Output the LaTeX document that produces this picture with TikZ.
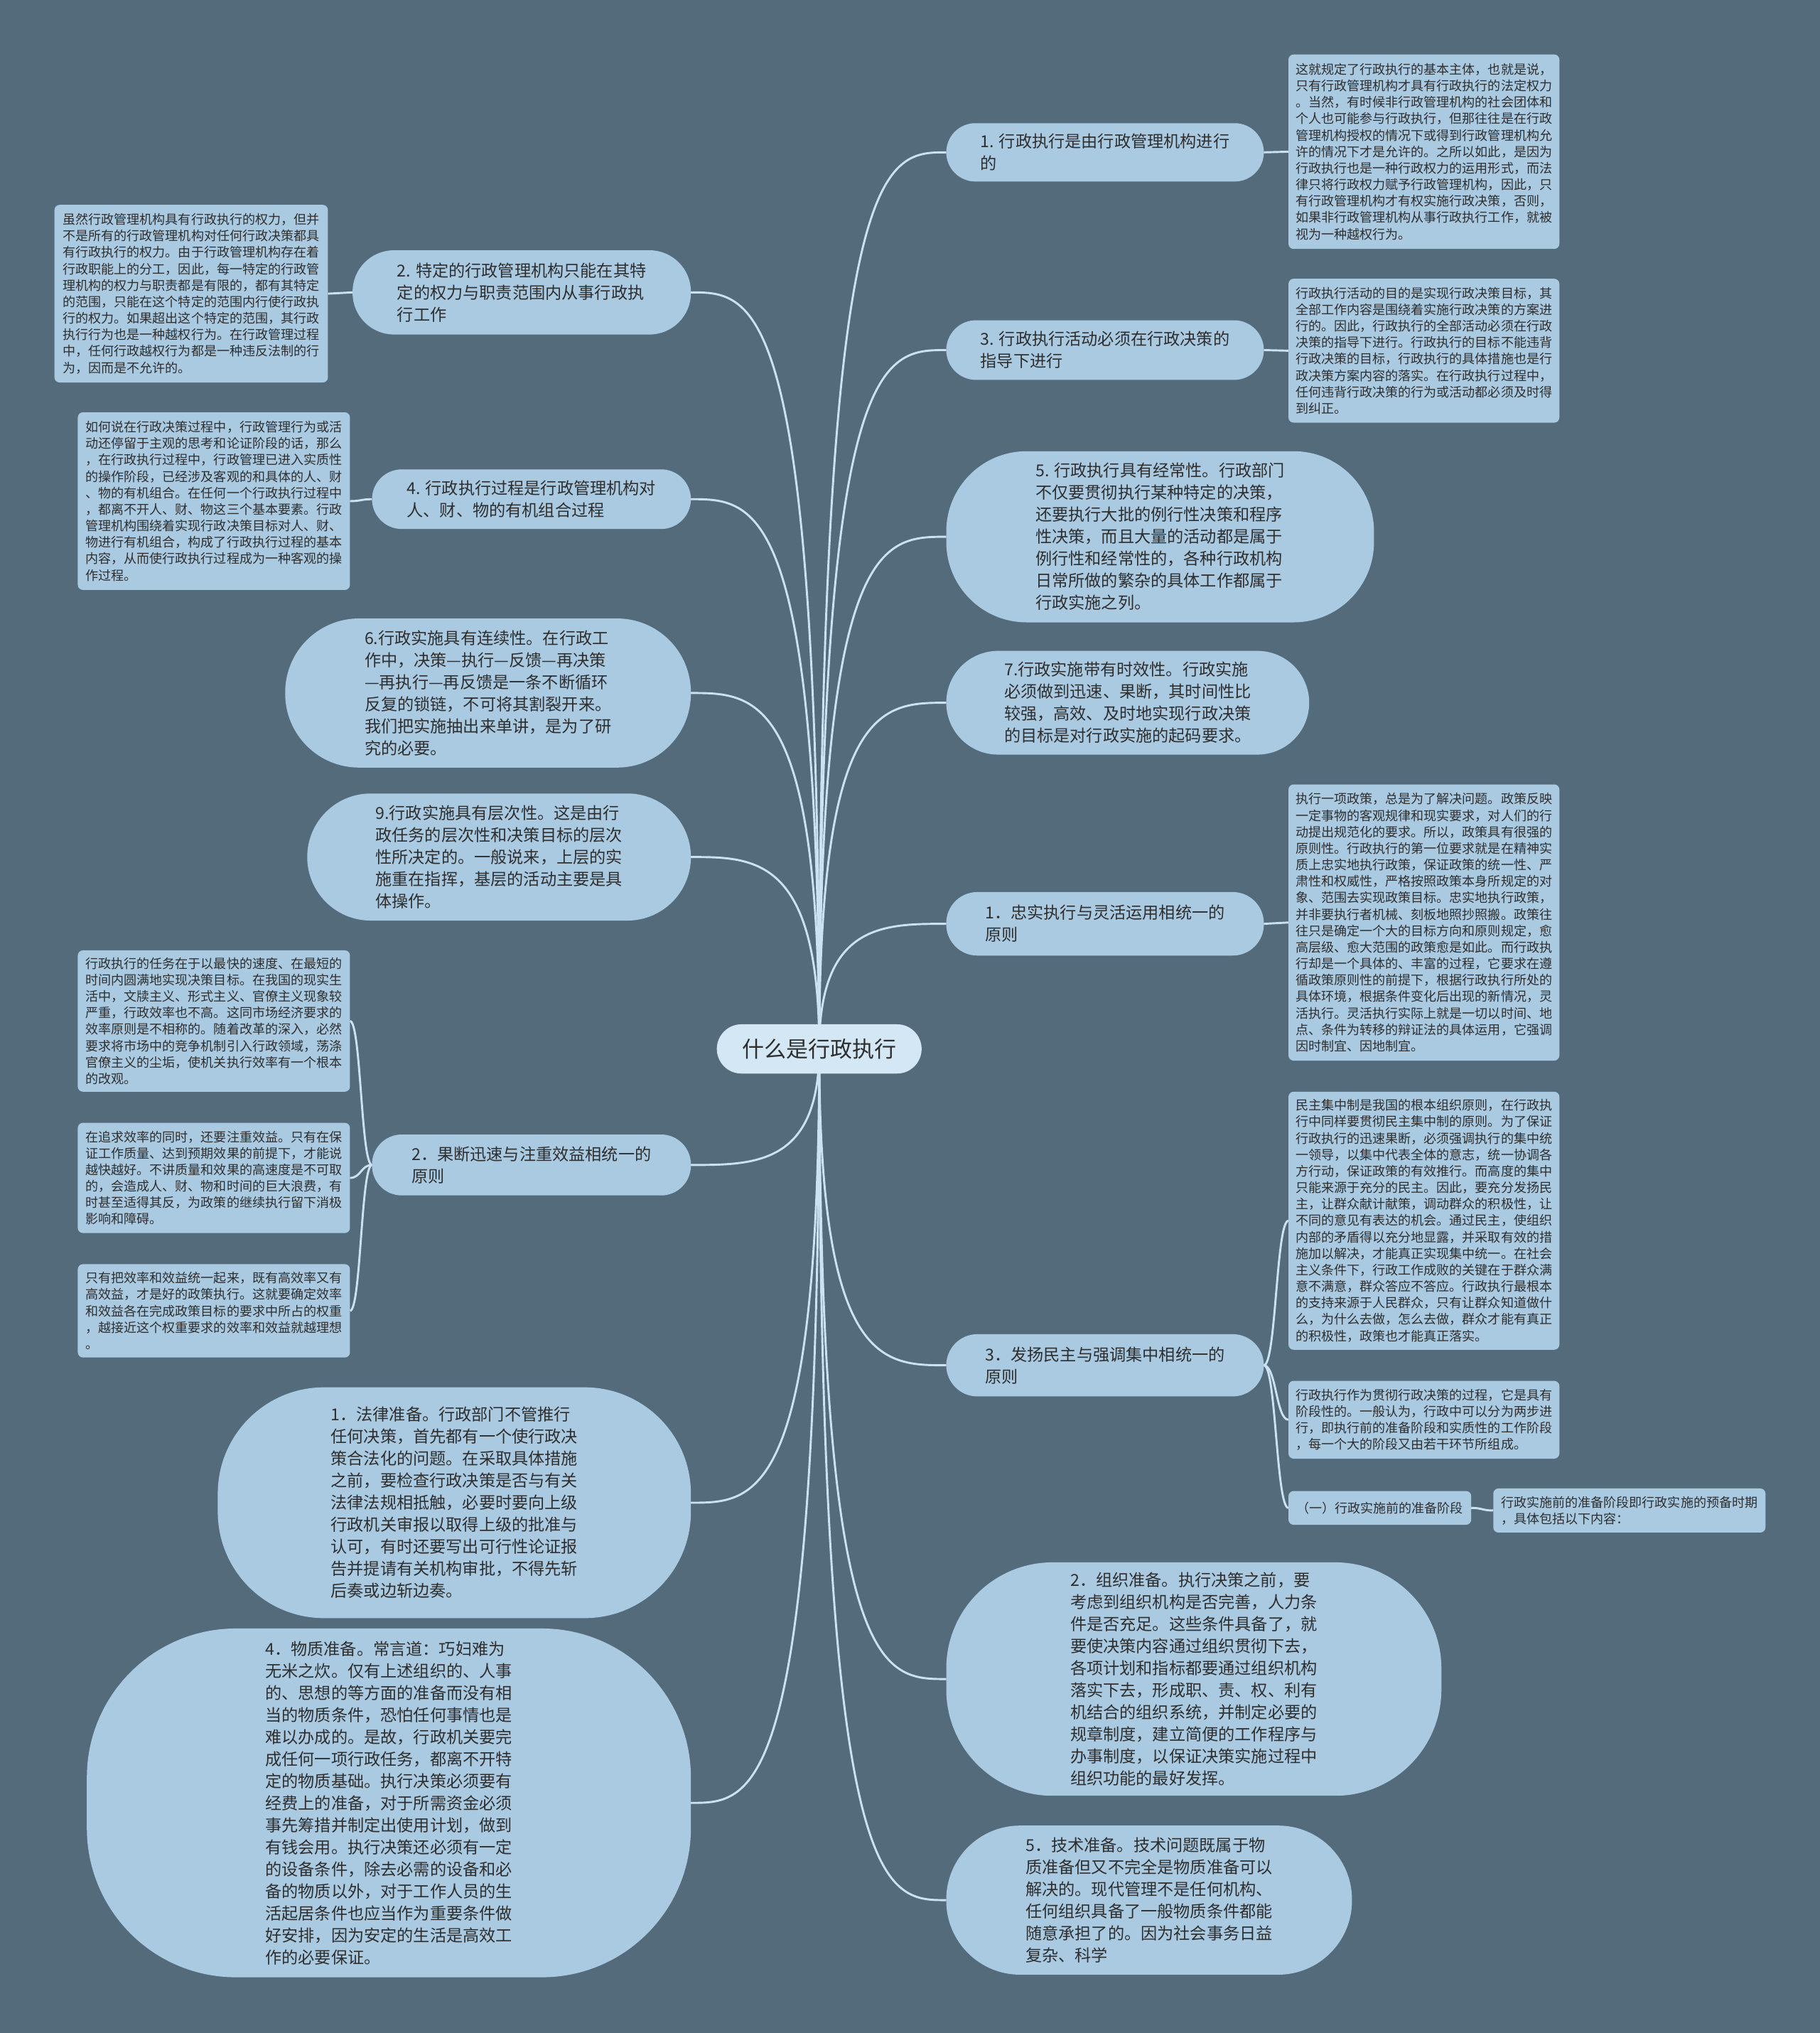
\documentclass[tikz,border=0pt]{standalone}
\usepackage{fontspec}
\setmainfont{Noto Sans CJK SC}
\usetikzlibrary{calc}
\definecolor{bgc}{HTML}{546B7C}
\definecolor{nfill}{HTML}{AACAE2}
\definecolor{cfill}{HTML}{D3E7F4}
\definecolor{lcol}{HTML}{CBE2F3}
\definecolor{tcol}{HTML}{2E2E2E}
\pgfdeclarelayer{back}
\pgfdeclarelayer{lines}
\pgfsetlayers{back,lines,main}
\newcommand\cR[1]{\draw[conn] (C.center) .. controls (C.center |- #1.west) and ($(#1.west)!0.5!(C.center |- #1.west)$) .. (#1.west);}
\newcommand\cL[1]{\draw[conn] (C.center) .. controls (C.center |- #1.east) and ($(#1.east)!0.5!(C.center |- #1.east)$) .. (#1.east);}
\newcommand\cK[2]{\path ($(#1)!0.5!(#2)$) coordinate (mid); \draw[conn] (#1) .. controls (mid |- #1) and (mid |- #2) .. (#2);}
\begin{document}
\begin{tikzpicture}[x=1pt,y=-1pt,
  every node/.style={inner sep=0pt, outer sep=0pt},
  l1/.style={fill=nfill, text=tcol, align=left, font=\fontsize{12.7}{17}\selectfont},
  leaf/.style={fill=nfill, text=tcol, align=left, rounded corners=4pt, font=\fontsize{9.9}{12.7}\selectfont},
  conn/.style={draw=lcol, line width=1.6pt}
]
\begin{pgfonlayer}{back}
\fill[bgc] (0,0) rectangle (1404,1568);
\end{pgfonlayer}
\useasboundingbox (0,0) rectangle (1404,1568);

% central
\node[fill=cfill, text=tcol, font=\fontsize{17}{20}\selectfont, minimum width=158pt, minimum height=38pt, rounded corners=19pt] (C) at (632,809) {什么是行政执行};

% right level-1
\node[l1, minimum width=245pt, minimum height=45pt, rounded corners=22.5pt] (R1) at (852.5,117.5) {1. 行政执行是由行政管理机构进行\\的};
\node[l1, minimum width=245pt, minimum height=46pt, rounded corners=23pt] (R3) at (852.5,270) {3. 行政执行活动必须在行政决策的\\指导下进行};
\node[l1, minimum width=330pt, minimum height=132pt, rounded corners=62pt] (R5) at (895,414) {5. 行政执行具有经常性。行政部门\\不仅要贯彻执行某种特定的决策，\\还要执行大批的例行性决策和程序\\性决策，而且大量的活动都是属于\\例行性和经常性的，各种行政机构\\日常所做的繁杂的具体工作都属于\\行政实施之列。};
\node[l1, minimum width=280pt, minimum height=80pt, rounded corners=40pt] (R7) at (870,542) {7.行政实施带有时效性。行政实施\\必须做到迅速、果断，其时间性比\\较强，高效、及时地实现行政决策\\的目标是对行政实施的起码要求。};
\node[l1, minimum width=245pt, minimum height=49pt, rounded corners=24pt] (RZ) at (852.5,712.5) {1．忠实执行与灵活运用相统一的\\原则};
\node[l1, minimum width=245pt, minimum height=48pt, rounded corners=24pt] (RM) at (852.5,1053) {3．发扬民主与强调集中相统一的\\原则};
\node[l1, minimum width=382pt, minimum height=180pt, rounded corners=82pt] (RO) at (921,1295) {2．组织准备。执行决策之前，要\\考虑到组织机构是否完善，人力条\\件是否充足。这些条件具备了，就\\要使决策内容通过组织贯彻下去，\\各项计划和指标都要通过组织机构\\落实下去，形成职、责、权、利有\\机结合的组织系统，并制定必要的\\规章制度，建立简便的工作程序与\\办事制度，以保证决策实施过程中\\组织功能的最好发挥。};
\node[l1, minimum width=313pt, minimum height=115pt, rounded corners=57pt] (RT) at (886.5,1465.5) {5．技术准备。技术问题既属于物\\质准备但又不完全是物质准备可以\\解决的。现代管理不是任何机构、\\任何组织具备了一般物质条件都能\\随意承担了的。因为社会事务日益\\复杂、科学};

% right leaves
\node[leaf, minimum width=209pt, minimum height=150pt] (T1) at (1098.5,117) {这就规定了行政执行的基本主体，也就是说，\\只有行政管理机构才具有行政执行的法定权力\\。当然，有时候非行政管理机构的社会团体和\\个人也可能参与行政执行，但那往往是在行政\\管理机构授权的情况下或得到行政管理机构允\\许的情况下才是允许的。之所以如此，是因为\\行政执行也是一种行政权力的运用形式，而法\\律只将行政权力赋予行政管理机构，因此，只\\有行政管理机构才有权实施行政决策，否则，\\如果非行政管理机构从事行政执行工作，就被\\视为一种越权行为。};
\node[leaf, minimum width=209pt, minimum height=111pt] (T3) at (1098.5,270.5) {行政执行活动的目的是实现行政决策目标，其\\全部工作内容是围绕着实施行政决策的方案进\\行的。因此，行政执行的全部活动必须在行政\\决策的指导下进行。行政执行的目标不能违背\\行政决策的目标，行政执行的具体措施也是行\\政决策方案内容的落实。在行政执行过程中，\\任何违背行政决策的行为或活动都必须及时得\\到纠正。};
\node[leaf, minimum width=209pt, minimum height=213pt] (TZ) at (1098.5,711.5) {执行一项政策，总是为了解决问题。政策反映\\一定事物的客观规律和现实要求，对人们的行\\动提出规范化的要求。所以，政策具有很强的\\原则性。行政执行的第一位要求就是在精神实\\质上忠实地执行政策，保证政策的统一性、严\\肃性和权威性，严格按照政策本身所规定的对\\象、范围去实现政策目标。忠实地执行政策，\\并非要执行者机械、刻板地照抄照搬。政策往\\往只是确定一个大的目标方向和原则规定，愈\\高层级、愈大范围的政策愈是如此。而行政执\\行却是一个具体的、丰富的过程，它要求在遵\\循政策原则性的前提下，根据行政执行所处的\\具体环境，根据条件变化后出现的新情况，灵\\活执行。灵活执行实际上就是一切以时间、地\\点、条件为转移的辩证法的具体运用，它强调\\因时制宜、因地制宜。};
\node[leaf, minimum width=209pt, minimum height=199pt] (TM1) at (1098.5,941.5) {民主集中制是我国的根本组织原则，在行政执\\行中同样要贯彻民主集中制的原则。为了保证\\行政执行的迅速果断，必须强调执行的集中统\\一领导，以集中代表全体的意志，统一协调各\\方行动，保证政策的有效推行。而高度的集中\\只能来源于充分的民主。因此，要充分发扬民\\主，让群众献计献策，调动群众的积极性，让\\不同的意见有表达的机会。通过民主，使组织\\内部的矛盾得以充分地显露，并采取有效的措\\施加以解决，才能真正实现集中统一。在社会\\主义条件下，行政工作成败的关键在于群众满\\意不满意，群众答应不答应。行政执行最根本\\的支持来源于人民群众，只有让群众知道做什\\么，为什么去做，怎么去做，群众才能有真正\\的积极性，政策也才能真正落实。};
\node[leaf, minimum width=209pt, minimum height=60pt] (TM2) at (1098.5,1095) {行政执行作为贯彻行政决策的过程，它是具有\\阶段性的。一般认为，行政中可以分为两步进\\行，即执行前的准备阶段和实质性的工作阶段\\，每一个大的阶段又由若干环节所组成。};
\node[leaf, minimum width=141pt, minimum height=26pt] (TM3) at (1064.5,1163) {（一）行政实施前的准备阶段};
\node[leaf, minimum width=210pt, minimum height=34pt] (TM4) at (1257,1165) {行政实施前的准备阶段即行政实施的预备时期\\，具体包括以下内容：};

% left level-1
\node[l1, minimum width=261pt, minimum height=65pt, rounded corners=32pt] (L2) at (402.5,225.5) {2. 特定的行政管理机构只能在其特\\定的权力与职责范围内从事行政执\\行工作};
\node[l1, minimum width=246pt, minimum height=46pt, rounded corners=23pt] (L4) at (410,385) {4. 行政执行过程是行政管理机构对\\人、财、物的有机组合过程};
\node[l1, minimum width=313pt, minimum height=115pt, rounded corners=57pt] (L6) at (376.5,534.5) {6.行政实施具有连续性。在行政工\\作中，决策—执行—反馈—再决策\\—再执行—再反馈是一条不断循环\\反复的锁链，不可将其割裂开来。\\我们把实施抽出来单讲，是为了研\\究的必要。};
\node[l1, minimum width=296pt, minimum height=98pt, rounded corners=49pt] (L9) at (385,661) {9.行政实施具有层次性。这是由行\\政任务的层次性和决策目标的层次\\性所决定的。一般说来，上层的实\\施重在指挥，基层的活动主要是具\\体操作。};
\node[l1, minimum width=246pt, minimum height=47pt, rounded corners=23pt] (LG) at (410,898.5) {2．果断迅速与注重效益相统一的\\原则};
\node[l1, minimum width=365pt, minimum height=178pt, rounded corners=82pt] (LF) at (350.5,1159) {1．法律准备。行政部门不管推行\\任何决策，首先都有一个使行政决\\策合法化的问题。在采取具体措施\\之前，要检查行政决策是否与有关\\法律法规相抵触，必要时要向上级\\行政机关审报以取得上级的批准与\\认可，有时还要写出可行性论证报\\告并提请有关机构审批，不得先斩\\后奏或边斩边奏。};
\node[l1, minimum width=466pt, minimum height=269pt, rounded corners=115pt] (LW) at (300,1390.5) {4．物质准备。常言道：巧妇难为\\无米之炊。仅有上述组织的、人事\\的、思想的等方面的准备而没有相\\当的物质条件，恐怕任何事情也是\\难以办成的。是故，行政机关要完\\成任何一项行政任务，都离不开特\\定的物质基础。执行决策必须要有\\经费上的准备，对于所需资金必须\\事先筹措并制定出使用计划，做到\\有钱会用。执行决策还必须有一定\\的设备条件，除去必需的设备和必\\备的物质以外，对于工作人员的生\\活起居条件也应当作为重要条件做\\好安排，因为安定的生活是高效工\\作的必要保证。};

% left leaves
\node[leaf, minimum width=211pt, minimum height=137pt] (TL2) at (147.5,226.5) {虽然行政管理机构具有行政执行的权力，但并\\不是所有的行政管理机构对任何行政决策都具\\有行政执行的权力。由于行政管理机构存在着\\行政职能上的分工，因此，每一特定的行政管\\理机构的权力与职责都是有限的，都有其特定\\的范围，只能在这个特定的范围内行使行政执\\行的权力。如果超出这个特定的范围，其行政\\执行行为也是一种越权行为。在行政管理过程\\中，任何行政越权行为都是一种违反法制的行\\为，因而是不允许的。};
\node[leaf, minimum width=210pt, minimum height=137pt] (TL4) at (165,386.5) {如何说在行政决策过程中，行政管理行为或活\\动还停留于主观的思考和论证阶段的话，那么\\，在行政执行过程中，行政管理已进入实质性\\的操作阶段，已经涉及客观的和具体的人、财\\、物的有机组合。在任何一个行政执行过程中\\，都离不开人、财、物这三个基本要素。行政\\管理机构围绕着实现行政决策目标对人、财、\\物进行有机组合，构成了行政执行过程的基本\\内容，从而使行政执行过程成为一种客观的操\\作过程。};
\node[leaf, minimum width=210pt, minimum height=109pt] (TG1) at (165,787.5) {行政执行的任务在于以最快的速度、在最短的\\时间内圆满地实现决策目标。在我国的现实生\\活中，文牍主义、形式主义、官僚主义现象较\\严重，行政效率也不高。这同市场经济要求的\\效率原则是不相称的。随着改革的深入，必然\\要求将市场中的竞争机制引入行政领域，荡涤\\官僚主义的尘垢，使机关执行效率有一个根本\\的改观。};
\node[leaf, minimum width=210pt, minimum height=85pt] (TG2) at (165,908.5) {在追求效率的同时，还要注重效益。只有在保\\证工作质量、达到预期效果的前提下，才能说\\越快越好。不讲质量和效果的高速度是不可取\\的，会造成人、财、物和时间的巨大浪费，有\\时甚至适得其反，为政策的继续执行留下消极\\影响和障碍。};
\node[leaf, minimum width=210pt, minimum height=72pt] (TG3) at (165,1011) {只有把效率和效益统一起来，既有高效率又有\\高效益，才是好的政策执行。这就要确定效率\\和效益各在完成政策目标的要求中所占的权重\\，越接近这个权重要求的效率和效益就越理想\\。};

\begin{pgfonlayer}{lines}
\cR{R1} \cR{R3} \cR{R5} \cR{R7} \cR{RZ} \cR{RM} \cR{RO} \cR{RT}
\cL{L2} \cL{L4} \cL{L6} \cL{L9} \cL{LG} \cL{LF} \cL{LW}
\cK{R1.east}{T1.west}
\cK{R3.east}{T3.west}
\cK{RZ.east}{TZ.west}
\cK{RM.east}{TM1.west}
\cK{RM.east}{TM2.west}
\cK{RM.east}{TM3.west}
\cK{TM3.east}{TM4.west}
\cK{L2.west}{TL2.east}
\cK{L4.west}{TL4.east}
\cK{LG.west}{TG1.east}
\cK{LG.west}{TG2.east}
\cK{LG.west}{TG3.east}
\end{pgfonlayer}
\end{tikzpicture}
\end{document}
